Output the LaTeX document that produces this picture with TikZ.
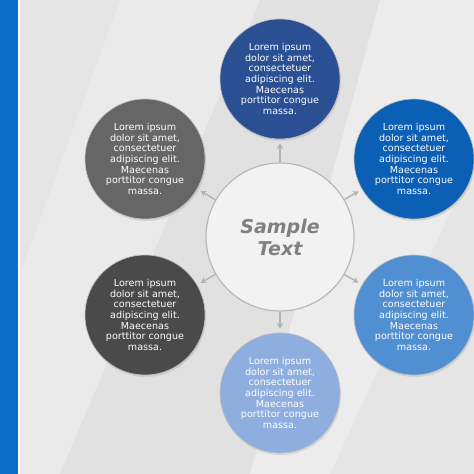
\documentclass[tikz,border=0pt]{standalone}
\usepackage{fontspec}
\setmainfont{DejaVu Sans}
\usetikzlibrary{arrows.meta,shadows}
\definecolor{bg}{HTML}{E5E5E5}
\definecolor{bar}{HTML}{0B6FC8}
\definecolor{cTop}{HTML}{2A4F93}
\definecolor{cTR}{HTML}{0B5FB5}
\definecolor{cBR}{HTML}{4F8FD2}
\definecolor{cBot}{HTML}{8EAEDF}
\definecolor{cBL}{HTML}{4A4A4A}
\definecolor{cTL}{HTML}{666666}
\definecolor{ctr}{HTML}{F2F2F2}
\definecolor{arr}{HTML}{B3B3B3}
\tikzset{
  x=1pt,y=-1pt,
  bubble/.style={circle,minimum size=120pt,inner sep=0pt,text=white,
    draw=black!25,line width=0.6pt,
    font=\fontsize{9.6}{10.6}\selectfont,align=center,
    drop shadow={shadow xshift=1pt,shadow yshift=-2pt,opacity=0.2}},
  hub/.style={circle,minimum size=148pt,inner sep=0pt,fill=ctr,draw=black!28,line width=1.2pt,
    text=black!50,font=\fontsize{19}{22}\selectfont\bfseries\itshape,align=center},
  link/.style={arr,line width=1.4pt,shorten >=4pt,-{Stealth[length=5.5pt,width=6.5pt]}}
}
\newcommand{\lorem}{Lorem ipsum\\dolor sit amet,\\consectetuer\\adipiscing elit.\\Maecenas\\porttitor congue\\massa.}
\begin{document}
\begin{tikzpicture}
\useasboundingbox (0,0) rectangle (474,474);
\fill[bg] (0,0) rectangle (474,474);
\fill[white,opacity=0.22] (120,0) -- (260,0) -- (60,474) -- (0,474) -- (0,330) -- cycle;
\fill[white,opacity=0.3] (380,0) -- (474,0) -- (474,160) -- (330,474) -- (250,474) -- cycle;
\fill[black,opacity=0.015] (260,0) -- (380,0) -- (250,474) -- (60,474) -- cycle;
\fill[bar] (0,0) rectangle (18,474);
\fill[white] (18,0) rectangle (19.5,474);
\node[hub] (c) at (280,237) {Sample\\Text};
\node[bubble,fill=cTop] (t) at (280,79) {\lorem};
\node[bubble,fill=cTR] (tr) at (414,159) {\lorem};
\node[bubble,fill=cBR] (br) at (414,315) {\lorem};
\node[bubble,fill=cBot] (b) at (280,393) {\lorem};
\node[bubble,fill=cBL] (bl) at (145,315) {\lorem};
\node[bubble,fill=cTL] (tl) at (145,159) {\lorem};
\foreach \n in {t,tr,br,b,bl,tl}
  \draw[link] (c) -- (\n);
\end{tikzpicture}
\end{document}
